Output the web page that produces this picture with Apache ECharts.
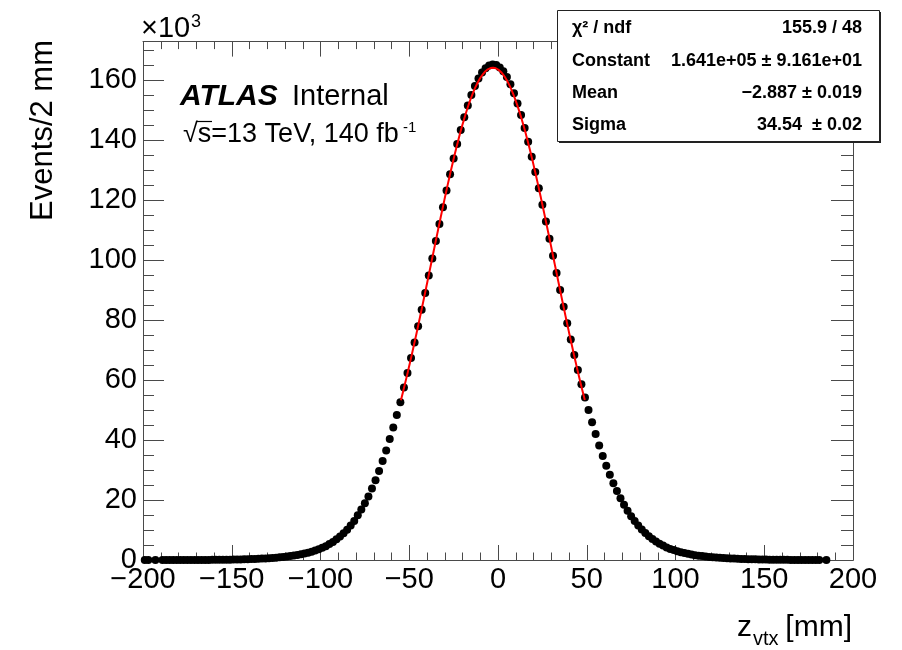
<!DOCTYPE html>
<html>
<head>
<meta charset="utf-8">
<script src="https://cdn.jsdelivr.net/npm/echarts@6/dist/echarts.min.js"></script>
<style>
  html, body { margin: 0; padding: 0; background: #fff; }
  #chart { width: 902px; height: 650px; }
</style>
</head>
<body>
<div id="chart"></div>
<script>
// Primary vertex z distribution: 2 mm bins from -200 mm to 200 mm.
const binStart = -200;
const binWidth = 2;

// Events per bin, one entry per bin (null = empty bin, not drawn).
const eventsPerBin = [
  1, 1, null, 1, null, 1, 2, 2, 3, 3,                                              // -199 .. -181
  4, 5, 7, 9, 12, 15, 20, 26, 33, 42,                                              // -179 .. -161
  53, 66, 82, 100, 120, 145, 170, 200, 230, 270,                                   // -159 .. -141
  310, 360, 410, 470, 540, 610, 690, 780, 880, 1000,                               // -139 .. -121
  1140, 1300, 1470, 1670, 1900, 2150, 2450, 2780, 3150, 3600,                      // -119 .. -101
  4100, 4600, 5300, 6000, 6900, 7800, 8900, 10100, 11500, 13000,                   //  -99 ..  -81
  14900, 16800, 18900, 21200, 23800, 26600, 29700, 33000, 36500, 40300,            //  -79 ..  -61
  44200, 48300, 52600, 57500, 62300, 67300, 72500, 77900, 83400, 89000,            //  -59 ..  -41
  94800, 100500, 106300, 112000, 117600, 123200, 128600, 133800, 138700, 143300,   //  -39 ..  -21
  147600, 151500, 155000, 158000, 160500, 162500, 163900, 164800, 165200, 165000,  //  -19 ..   -1
  164200, 162900, 161000, 158600, 155600, 152200, 148300, 144000, 139400, 134400,  //    1 ..   19
  129300, 123900, 118400, 112800, 107100, 101400, 95700, 90000, 84400, 78900,      //   21 ..   39
  73500, 68300, 63300, 58600, 54200, 50000, 45900, 42000, 38200, 34700,            //   41 ..   59
  31400, 28400, 25600, 23000, 20600, 18400, 16400, 14600, 13000, 11500,            //   61 ..   79
  10200, 9000, 7900, 7000, 6200, 5400, 4800, 4200, 3700, 3300,                     //   81 ..   99
  2900, 2600, 2300, 2050, 1820, 1620, 1450, 1300, 1160, 1040,                      //  101 ..  119
  930, 830, 740, 660, 590, 530, 470, 420, 370, 330,                                //  121 ..  139
  290, 250, 220, 190, 165, 140, 120, 100, 85, 70,                                  //  141 ..  159
  58, 47, 38, 30, 24, 19, 15, 11, 8, 6,                                            //  161 ..  179
  4, null, 2, null, null, null, null, null, null, null                             //  181 ..  199
];

// Gaussian fit result and its range
const fitChi2 = 155.9;
const fitNdf = 48;
const fitConstant = 1.641e5;
const fitConstantErr = 9.161e1;
const fitMean = -2.887;
const fitMeanErr = 0.019;
const fitSigma = 34.54;
const fitSigmaErr = 0.02;
const fitRange = [-54.7, 48.9];

// Axis ranges and tick steps
const xRange = [-200, 200];
const xMajorStep = 50;
const yRange = [0, 172800];
const yMajorStep = 20000;
const yMinorStep = 5000;
const yLabelScale = 1000;   // labels shown in units of 10^3

const statNames = ['\u03c7\u00b2 / ndf', 'Constant', 'Mean', 'Sigma'];

const FONT = '"Liberation Sans", Arial, Helvetica, sans-serif';
const AXIS_COLOR = '#4a4a4a';

// ---- series data -------------------------------------------------------
const points = [];
eventsPerBin.forEach((v, i) => {
  if (v !== null) points.push([binStart + binWidth * (i + 0.5), v]);
});

function gauss(x) {
  const z = (x - fitMean) / fitSigma;
  return fitConstant * Math.exp(-0.5 * z * z);
}
const fitCurve = [];
for (let x = fitRange[0]; x < fitRange[1]; x += 0.25) fitCurve.push([x, gauss(x)]);
fitCurve.push([fitRange[1], gauss(fitRange[1])]);

// ---- text helpers ------------------------------------------------------
const minus = s => s.replace('-', '\u2212');
const expFmt = v => v.toExponential(3).replace(/e([+-])(\d)$/, 'e$10$2');
const statValues = [
  fitChi2.toFixed(1) + ' / ' + fitNdf,
  expFmt(fitConstant) + ' \u00b1 ' + expFmt(fitConstantErr),
  minus(fitMean.toFixed(3)) + ' \u00b1 ' + fitMeanErr.toFixed(3),
  fitSigma.toFixed(2) + '  \u00b1 ' + fitSigmaErr.toFixed(2)
];

// ---- axes --------------------------------------------------------------
const lineStyle = { color: AXIS_COLOR, width: 1 };
function xAxisDef(pos, labels) {
  return {
    type: 'value', position: pos, min: xRange[0], max: xRange[1], interval: xMajorStep,
    axisLine: { show: true, onZero: false, lineStyle },
    axisTick: { show: true, inside: true, length: 15, lineStyle },
    minorTick: { show: true, splitNumber: 5, length: 7.5, lineStyle },
    splitLine: { show: false }, minorSplitLine: { show: false },
    axisLabel: {
      show: labels, margin: 5, fontSize: 29, fontFamily: FONT, color: '#000',
      showMinLabel: true, showMaxLabel: true, hideOverlap: false,
      alignMinLabel: 'center', alignMaxLabel: 'center',
      formatter: v => (v < 0 ? '\u2212' + Math.abs(v) : String(v))
    }
  };
}
function yAxisDef(pos, step, tickLen, labels) {
  return {
    type: 'value', position: pos, min: yRange[0], max: yRange[1], interval: step,
    axisLine: { show: true, onZero: false, lineStyle },
    axisTick: { show: true, inside: true, length: tickLen, lineStyle },
    splitLine: { show: false },
    axisLabel: {
      show: labels, margin: 6, fontSize: 29, fontFamily: FONT, color: '#000',
      showMinLabel: true, showMaxLabel: true, hideOverlap: false,
      formatter: v => (v % yMajorStep === 0 ? String(v / yLabelScale) : '')
    }
  };
}

// ---- overlay texts -----------------------------------------------------
function txt(text, x, y, size, opts) {
  return Object.assign({
    type: 'text', x, y, z: 20, silent: true,
    style: Object.assign({
      text, fontSize: size, fontFamily: FONT, fill: '#000',
      align: 'left', verticalAlign: 'middle'
    }, (opts && opts.style) || {})
  }, (opts && opts.el) || {});
}

const box = { x: 557.5, y: 10.5, w: 322, h: 131 };
const statRowY = [28.5, 61.5, 93.5, 125.5];

const graphics = [
  // y axis title and multiplier
  txt('Events/2 mm', 43.5, 40, 31, { style: { align: 'right' }, el: { rotation: Math.PI / 2 } }),
  txt('\u00d710', 141, 29, 29),
  txt('3', 191, 22, 18),
  // x axis title
  txt('z', 737, 628, 30),
  txt('vtx', 753, 639, 20),
  txt('[mm]', 852, 628, 30, { style: { align: 'right' } }),
  // experiment label
  txt('ATLAS', 180, 97, 30, { style: { fontWeight: 'bold', fontStyle: 'italic' } }),
  txt('Internal', 292, 97, 29),
  txt('\u221as=13 TeV, 140 fb', 183, 135, 27),
  txt('-1', 403, 128, 15),
  { type: 'line', z: 20, silent: true,
    shape: { x1: 197, y1: 121.5, x2: 212, y2: 121.5 },
    style: { stroke: '#000', lineWidth: 1.2 } },
  // fit statistics box
  { type: 'rect', z: 18, silent: true,
    shape: { x: box.x + 1.5, y: box.y + 1.5, width: box.w, height: box.h },
    style: { fill: '#222' } },
  { type: 'rect', z: 19, silent: true,
    shape: { x: box.x, y: box.y, width: box.w, height: box.h },
    style: { fill: '#fff', stroke: '#222', lineWidth: 1 } }
];
statNames.forEach((name, i) => {
  graphics.push(txt(name, 572, statRowY[i], 18, { style: { fontWeight: 'bold' } }));
  graphics.push(txt(statValues[i], 862, statRowY[i], 18, { style: { fontWeight: 'bold', align: 'right' } }));
});

// ---- chart -------------------------------------------------------------
const chart = echarts.init(document.getElementById('chart'), null, { renderer: 'canvas' });
chart.setOption({
  animation: false,
  backgroundColor: '#fff',
  grid: { left: 143, right: 49, top: 41.6, bottom: 90, containLabel: false, outerBoundsMode: 'none' },
  xAxis: [xAxisDef('bottom', true), xAxisDef('top', false)],
  yAxis: [
    yAxisDef('left', yMajorStep, 21, true),
    yAxisDef('left', yMinorStep, 11, false),
    yAxisDef('right', yMajorStep, 22, false),
    yAxisDef('right', yMinorStep, 12, false)
  ],
  series: [
    {
      type: 'scatter', name: 'data', xAxisIndex: 0, yAxisIndex: 0,
      data: points, symbol: 'circle', symbolSize: 8,
      itemStyle: { color: '#000', opacity: 1 }, z: 3, silent: true
    },
    {
      type: 'line', name: 'fit', xAxisIndex: 0, yAxisIndex: 0,
      data: fitCurve, showSymbol: false, smooth: false,
      lineStyle: { color: '#ff0000', width: 2 }, z: 4, silent: true
    }
  ],
  graphic: graphics
});
</script>
</body>
</html>
